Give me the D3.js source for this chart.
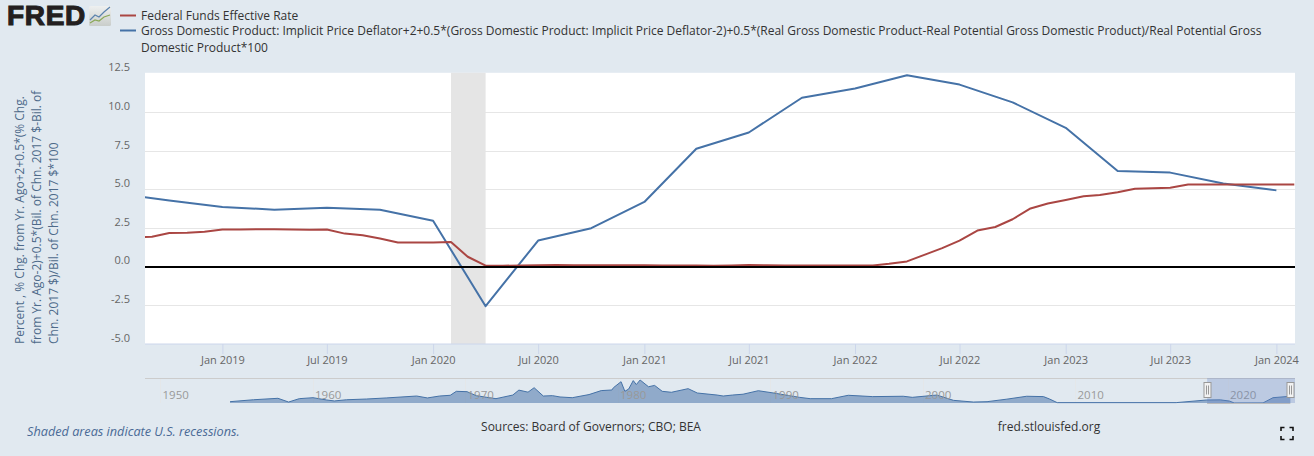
<!DOCTYPE html>
<html>
<head>
<meta charset="utf-8">
<script src="https://cdn.jsdelivr.net/npm/d3@7"></script>
<style>
  html, body { margin: 0; padding: 0; background: #e1e9f0; overflow: hidden; }
  text { font-family: "Open Sans", sans-serif; }
</style>
</head>
<body>
<svg id="chart"></svg>
<script>
const legendLabels = [
  ["Federal Funds Effective Rate"],
  ["Gross Domestic Product: Implicit Price Deflator+2+0.5*(Gross Domestic Product: Implicit Price Deflator-2)+0.5*(Real Gross Domestic Product-Real Potential Gross Domestic Product)/Real Potential Gross", "Domestic Product*100"]
];
const yTitleLines = [
  "Percent , % Chg. from Yr. Ago+2+0.5*(% Chg.",
  "from Yr. Ago-2)+0.5*(Bil. of Chn. 2017 $-Bil. of",
  "Chn. 2017 $)/Bil. of Chn. 2017 $*100"
];
const yTicks = [-5, -2.5, 0, 2.5, 5, 7.5, 10, 12.5];
const xTicks = ["2019-01", "2019-07", "2020-01", "2020-07", "2021-01", "2021-07", "2022-01", "2022-07", "2023-01", "2023-07", "2024-01"];

// monthly, Aug 2018 to Feb 2024
const fedFundsMonths = [
  "2018-08", "2018-09", "2018-10", "2018-11", "2018-12",
  "2019-01", "2019-02", "2019-03", "2019-04", "2019-05", "2019-06", "2019-07", "2019-08", "2019-09", "2019-10", "2019-11", "2019-12",
  "2020-01", "2020-02", "2020-03", "2020-04", "2020-05", "2020-06", "2020-07", "2020-08", "2020-09", "2020-10", "2020-11", "2020-12",
  "2021-01", "2021-02", "2021-03", "2021-04", "2021-05", "2021-06", "2021-07", "2021-08", "2021-09", "2021-10", "2021-11", "2021-12",
  "2022-01", "2022-02", "2022-03", "2022-04", "2022-05", "2022-06", "2022-07", "2022-08", "2022-09", "2022-10", "2022-11", "2022-12",
  "2023-01", "2023-02", "2023-03", "2023-04", "2023-05", "2023-06", "2023-07", "2023-08", "2023-09", "2023-10", "2023-11", "2023-12",
  "2024-01", "2024-02"
];
const fedFunds = [
  1.91, 1.95, 2.19, 2.20, 2.27,
  2.42, 2.42, 2.43, 2.44, 2.41, 2.40, 2.42, 2.15, 2.04, 1.83, 1.57, 1.57,
  1.57, 1.60, 0.65, 0.07, 0.07, 0.09, 0.10, 0.11, 0.10, 0.10, 0.10, 0.10,
  0.10, 0.09, 0.08, 0.08, 0.07, 0.09, 0.11, 0.10, 0.09, 0.09, 0.09, 0.09,
  0.09, 0.09, 0.20, 0.35, 0.77, 1.21, 1.70, 2.35, 2.58, 3.08, 3.78, 4.10,
  4.33, 4.57, 4.65, 4.83, 5.06, 5.08, 5.12, 5.33, 5.33, 5.33, 5.33, 5.33,
  5.33, 5.33
];

// quarterly, Jul 2018 to Jan 2024
const ruleQuarters = [
  "2018-07", "2018-10",
  "2019-01", "2019-04", "2019-07", "2019-10",
  "2020-01", "2020-04", "2020-07", "2020-10",
  "2021-01", "2021-04", "2021-07", "2021-10",
  "2022-01", "2022-04", "2022-07", "2022-10",
  "2023-01", "2023-04", "2023-07", "2023-10",
  "2024-01"
];
const taylorRule = [
  4.75, 4.3,
  3.88, 3.7, 3.82, 3.7,
  2.98, -2.55, 1.7, 2.5,
  4.2, 7.65, 8.7, 10.95,
  11.55, 12.4, 11.8, 10.65,
  9.0, 6.2, 6.1, 5.4,
  4.95
];

const recessionStart = "2020-02";
const recessionEnd = "2020-04";

// navigator overview (decimal year, percent)
const navYears = [
  1954.56, 1956.1, 1957.7, 1958.4, 1959.1, 1960, 1960.9, 1961.4, 1962.2, 1963.5, 1964.8, 1966.8, 1967.5, 1968.3, 1969, 1969.4, 1970.1, 1970.7, 1971.4, 1972,
  1973.1, 1973.5, 1974.1, 1974.5, 1975.1, 1975.7, 1976.2, 1977, 1978.1, 1978.9, 1979.6, 1979.7, 1980.2, 1980.45, 1980.7, 1981, 1981.2, 1981.45, 1982, 1982.4,
  1982.9, 1983.5, 1984.6, 1985.2, 1986.5, 1986.9, 1987.5, 1988.2, 1989.2, 1990.2, 1991.9, 1992.6, 1994, 1995.1, 1996.7, 1998.7, 1999.3, 2000.9, 2002, 2003.3,
  2004.2, 2005.5, 2006.8, 2007.9, 2008.3, 2008.8, 2016.6, 2018.6, 2019.5, 2020.1, 2020.4, 2022.3, 2022.95, 2024.09
];
const navValues = [
  1.1, 2.7, 3.9, 0.8, 3.6, 4.4, 2.5, 1.7, 2.7, 3.3, 4.2, 5.8, 4.2, 5.8, 6.4, 9.7, 9.4, 6.1, 4.7, 3.6,
  6.6, 10.7, 9.0, 12.7, 5.8, 6.1, 5.0, 4.4, 7.0, 10.3, 10.8, 12.7, 17.7, 9.7, 11.6, 18.6, 15.3, 19.1, 13.5, 14.6,
  9.7, 8.9, 11.9, 8.3, 6.6, 5.8, 6.6, 7.3, 10.2, 8.3, 4.7, 3.6, 3.6, 6.4, 5.3, 5.6, 4.7, 6.6, 2.2, 0.8,
  1.1, 3.2, 5.6, 5.3, 3.3, 0.3, 0.3, 2.5, 2.6, 1.6, 0.05, 0.1, 4.4, 5.6
];
const navLabels = [1950, 1960, 1970, 1980, 1990, 2000, 2010, 2020];

const width = 1314;
const height = 456;
const plot = { left: 145, right: 1295, top: 73.8, bottom: 344 };
const nav = { top: 378, bottom: 403 };
const red = "#aa4643";
const blue = "#4572a7";

const parseMonth = d3.timeParse("%Y-%m");
const crisp = v => Math.floor(v) + 0.5;

const svg = d3.select("#chart")
  .attr("width", width)
  .attr("height", height)
  .style("display", "block");

// x runs from late Aug 2018 to early Feb 2024
const x = d3.scaleTime()
  .domain([parseMonth("2019-01"), parseMonth("2024-01")])
  .range([222.4, 1276.4]);
const y = d3.scaleLinear()
  .domain([-5, 12.5])
  .range([plot.bottom, plot.top]);

svg.append("defs").append("clipPath")
  .attr("id", "plot-clip")
  .append("rect")
  .attr("x", plot.left)
  .attr("y", plot.top - 1)
  .attr("width", plot.right - plot.left)
  .attr("height", plot.bottom - plot.top + 1);

svg.append("rect")
  .attr("x", plot.left)
  .attr("y", plot.top - 1)
  .attr("width", plot.right - plot.left)
  .attr("height", plot.bottom - plot.top + 1)
  .attr("fill", "#fff");

// gridlines
svg.append("g")
  .selectAll("line")
  .data(yTicks.filter(d => d !== 12.5 && d !== -5))
  .enter().append("line")
  .attr("x1", plot.left)
  .attr("x2", plot.right)
  .attr("y1", d => crisp(y(d)))
  .attr("y2", d => crisp(y(d)))
  .attr("stroke", "#e6e6e6");

// recession band
svg.append("rect")
  .attr("x", x(parseMonth(recessionStart)))
  .attr("y", plot.top - 1)
  .attr("width", x(parseMonth(recessionEnd)) - x(parseMonth(recessionStart)))
  .attr("height", plot.bottom - plot.top + 1)
  .attr("fill", "#e5e5e5");

// y tick labels
svg.append("g")
  .selectAll("text")
  .data(yTicks)
  .enter().append("text")
  .attr("x", 130)
  .attr("y", d => y(d) - 2.5)
  .attr("text-anchor", "end")
  .attr("font-size", 11)
  .attr("fill", "#666")
  .text(d => d.toFixed(1));

// x axis
const xAxis = d3.axisBottom(x)
  .tickValues(xTicks.map(parseMonth))
  .tickFormat(d3.timeFormat("%b %Y"))
  .tickSize(10)
  .tickPadding(2);
const xAxisG = svg.append("g")
  .attr("transform", `translate(0,${plot.bottom})`)
  .call(xAxis);
xAxisG.select(".domain").remove();
xAxisG.append("line")
  .attr("x1", plot.left)
  .attr("x2", plot.right)
  .attr("stroke", "#ccd6eb");
xAxisG.selectAll(".tick line").attr("stroke", "#ccd6eb");
xAxisG.selectAll(".tick text")
  .attr("font-size", 11)
  .attr("font-family", '"Open Sans", sans-serif')
  .attr("fill", "#666");

// series
const line = d3.line()
  .x(d => x(d.date))
  .y(d => y(d.value));

const ruleData = ruleQuarters.map((m, i) => ({ date: parseMonth(m), value: taylorRule[i] }));
const fundsData = fedFundsMonths.map((m, i) => ({ date: parseMonth(m), value: fedFunds[i] }));

const series = svg.append("g").attr("clip-path", "url(#plot-clip)");
series.append("path")
  .datum(ruleData)
  .attr("d", line)
  .attr("fill", "none")
  .attr("stroke", blue)
  .attr("stroke-width", 2)
  .attr("stroke-linejoin", "round");
series.append("path")
  .datum(fundsData)
  .attr("d", line)
  .attr("fill", "none")
  .attr("stroke", red)
  .attr("stroke-width", 2)
  .attr("stroke-linejoin", "round");

// zero line, sits just under the fed funds line where that runs near zero
svg.append("line")
  .attr("x1", plot.left)
  .attr("x2", plot.right)
  .attr("y1", 267)
  .attr("y2", 267)
  .attr("stroke", "#000")
  .attr("stroke-width", 2);

// y axis title
const yTitle = svg.append("g");
yTitleLines.forEach((t, i) => {
  yTitle.append("text")
    .attr("transform", `translate(${24 + i * 17},344) rotate(-90)`)
    .attr("font-size", 12)
    .attr("fill", "#4d6a8a")
    .text(t);
});

// legend
const legendY = [15.5, 30.5];
const legendRows = [20, 35, 52];
legendY.forEach((ly, i) => {
  svg.append("line")
    .attr("x1", 120)
    .attr("x2", 136)
    .attr("y1", ly)
    .attr("y2", ly)
    .attr("stroke", i === 0 ? red : blue)
    .attr("stroke-width", 2);
});
[legendLabels[0][0], legendLabels[1][0], legendLabels[1][1]].forEach((t, i) => {
  svg.append("text")
    .attr("x", 141)
    .attr("y", legendRows[i])
    .attr("font-size", 12)
    .attr("fill", "#333")
    .text(t);
});

// navigator
const navX = d3.scaleLinear().domain([1960, 2020]).range([313, 1228]);
const navY = d3.scaleLinear().domain([0, 19.1]).range([nav.bottom, 380]);

svg.append("g")
  .selectAll("line")
  .data(navLabels)
  .enter().append("line")
  .attr("x1", d => crisp(navX(d)))
  .attr("x2", d => crisp(navX(d)))
  .attr("y1", nav.top)
  .attr("y2", nav.bottom)
  .attr("stroke", "#e6e6e6")
  .attr("stroke-opacity", 0.7);

const navPoints = navYears.map((yr, i) => [yr, navValues[i]]);
svg.append("path")
  .datum(navPoints)
  .attr("d", d3.area().x(d => navX(d[0])).y0(nav.bottom).y1(d => navY(d[1])))
  .attr("fill", blue)
  .attr("fill-opacity", 0.52);
svg.append("path")
  .datum(navPoints)
  .attr("d", d3.line().x(d => navX(d[0])).y(d => navY(d[1])))
  .attr("fill", "none")
  .attr("stroke", blue)
  .attr("stroke-width", 1);

svg.append("g")
  .selectAll("text")
  .data(navLabels)
  .enter().append("text")
  .attr("x", d => navX(d) + 2)
  .attr("y", 399)
  .attr("font-size", 11.5)
  .attr("fill", "#999")
  .text(d => d);

svg.append("line")
  .attr("x1", plot.left)
  .attr("x2", plot.right)
  .attr("y1", nav.top + 0.5)
  .attr("y2", nav.top + 0.5)
  .attr("stroke", "#ccc");

// navigator selection and handles
const selLeft = navX(2018.63);
const selRight = navX(2024.09);
svg.append("rect")
  .attr("x", selLeft)
  .attr("y", nav.top)
  .attr("width", plot.right - selLeft)
  .attr("height", nav.bottom - nav.top)
  .attr("fill", "#6685c2")
  .attr("fill-opacity", 0.3);
svg.append("line")
  .attr("x1", selLeft)
  .attr("x2", selRight)
  .attr("y1", nav.bottom + 0.5)
  .attr("y2", nav.bottom + 0.5)
  .attr("stroke", "#bbb");
[selLeft, selRight].forEach(hx => {
  const h = svg.append("g").attr("transform", `translate(${Math.round(hx) + 0.5},382.5)`);
  h.append("rect")
    .attr("x", -3.5).attr("y", 0)
    .attr("width", 7).attr("height", 15)
    .attr("fill", "#f2f2f2")
    .attr("stroke", "#999");
  h.append("path")
    .attr("d", "M-1,3V12M1,3V12")
    .attr("stroke", "#999")
    .attr("fill", "none");
});

// footer
svg.append("text")
  .attr("x", 27)
  .attr("y", 436)
  .attr("font-size", 12.7)
  .attr("font-style", "italic")
  .attr("fill", "#4a6a96")
  .text("Shaded areas indicate U.S. recessions.");
svg.append("text")
  .attr("x", 591)
  .attr("y", 431)
  .attr("font-size", 12)
  .attr("text-anchor", "middle")
  .attr("fill", "#333")
  .text("Sources: Board of Governors; CBO; BEA");
svg.append("text")
  .attr("x", 1049)
  .attr("y", 431)
  .attr("font-size", 12)
  .attr("text-anchor", "middle")
  .attr("fill", "#333")
  .text("fred.stlouisfed.org");

// fullscreen icon
svg.append("path")
  .attr("d", "M1281,431V427.5H1284.5M1289.5,427.5H1293V431M1293,436V439.5H1289.5M1284.5,439.5H1281V436")
  .attr("fill", "none")
  .attr("stroke", "#111")
  .attr("stroke-width", 1.6);

// FRED logo
svg.append("text")
  .attr("x", 7)
  .attr("y", 25)
  .attr("font-size", 28)
  .attr("font-weight", 700)
  .attr("letter-spacing", 0.7)
  .style("font-family", '"Liberation Sans", sans-serif')
  .attr("fill", "#231f20")
  .attr("stroke", "#231f20")
  .attr("stroke-width", 1.1)
  .text("FRED");
const grad = svg.select("defs").append("linearGradient")
  .attr("id", "logo-bg")
  .attr("x1", 0).attr("y1", 0).attr("x2", 0).attr("y2", 1);
grad.append("stop").attr("offset", "0%").attr("stop-color", "#eef0f0");
grad.append("stop").attr("offset", "100%").attr("stop-color", "#c9cdca");
svg.append("rect")
  .attr("x", 89).attr("y", 6)
  .attr("width", 22).attr("height", 20)
  .attr("rx", 1.5)
  .attr("fill", "url(#logo-bg)");
svg.append("path")
  .attr("d", "M90,20L95,15L99,17L104,12L110,7")
  .attr("fill", "none").attr("stroke", "#5b83ad").attr("stroke-width", 1.2);
svg.append("path")
  .attr("d", "M90,23L95,20L99,21L104,17L110,15")
  .attr("fill", "none").attr("stroke", "#8aa858").attr("stroke-width", 1.2);
</script>
</body>
</html>
